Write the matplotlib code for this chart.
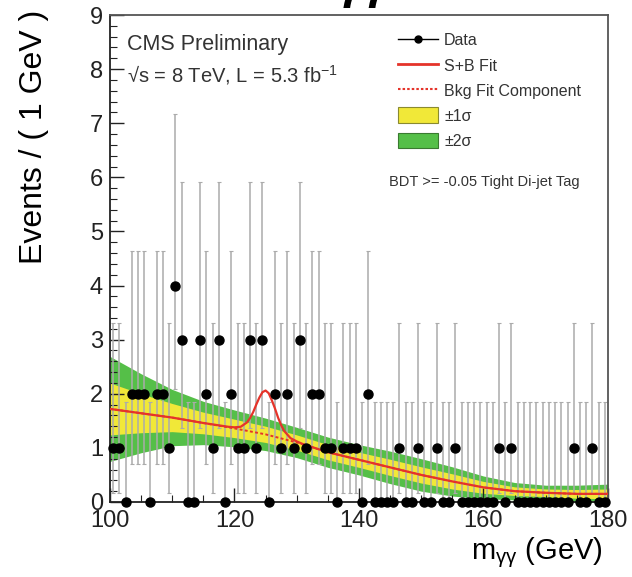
import numpy as np
import matplotlib
matplotlib.use("Agg")
import matplotlib.pyplot as plt
from matplotlib.lines import Line2D
from matplotlib.patches import Patch
from matplotlib.ticker import MultipleLocator

plt.rcParams["font.family"] = ["Liberation Sans", "DejaVu Sans"]
plt.rcParams["mathtext.fontset"] = "custom"
plt.rcParams["mathtext.rm"] = "Liberation Sans"

# ── data: events per 1 GeV bin (bin centres 100.5 ... 179.5) ────────────────
bin_centres = np.arange(100.5, 180.0, 1.0)
counts = [
    1, 1, 0, 2, 2, 2, 0, 2, 2, 1,      # 100-110
    4, 3, 0, 0, 3, 2, 1, 3, 0, 2,      # 110-120
    1, 1, 3, 1, 3, 0, 2, 1, 2, 1,      # 120-130
    3, 1, 2, 2, 1, 1, 0, 1, 1, 1,      # 130-140
    0, 2, 0, 0, 0, 0, 1, 0, 0, 1,      # 140-150
    0, 0, 1, 0, 0, 1, 0, 0, 0, 0,      # 150-160
    0, 0, 1, 0, 1, 0, 0, 0, 0, 0,      # 160-170
    0, 0, 0, 0, 1, 0, 0, 1, 0, 0,      # 170-180
]
# Poisson (Garwood) intervals for each count
poisson_lo = {0: 0.0, 1: 0.827, 2: 1.292, 3: 1.633, 4: 1.914}
poisson_hi = {0: 1.841, 1: 2.300, 2: 2.638, 3: 2.918, 4: 3.162}

# ── background fit and uncertainty bands ───────────────────────────────────
bkg_mass = [100, 105, 110, 115, 120, 125, 130, 135, 140, 145, 150, 155, 160, 165, 170, 175, 180]
bkg_fit = [1.72, 1.64, 1.56, 1.46, 1.36, 1.25, 1.10, 0.92, 0.78, 0.64, 0.50, 0.38, 0.27, 0.20, 0.17, 0.15, 0.15]
band_1sig = [0.48, 0.36, 0.26, 0.20, 0.17, 0.15, 0.14, 0.14, 0.14, 0.15, 0.15, 0.14, 0.11, 0.08, 0.07, 0.08, 0.09]
band_2sig = [0.97, 0.73, 0.52, 0.40, 0.34, 0.30, 0.28, 0.28, 0.28, 0.30, 0.30, 0.27, 0.21, 0.16, 0.14, 0.16, 0.18]

# ── signal + background fit ────────────────────────────────────────────────
sb_mass = [100, 105, 110, 115, 119, 120, 121, 122, 122.5, 123, 123.5, 124, 124.5, 125,
           125.5, 126, 126.5, 127, 127.5, 128, 129, 130, 131, 135, 140, 145, 150, 155,
           160, 165, 170, 175, 180]
sb_fit = [1.72, 1.64, 1.56, 1.46, 1.39, 1.38, 1.39, 1.47, 1.55, 1.66, 1.80, 1.93, 2.03, 2.06,
          2.01, 1.88, 1.73, 1.56, 1.42, 1.31, 1.18, 1.12, 1.07, 0.92, 0.78, 0.64, 0.50, 0.38,
          0.27, 0.20, 0.17, 0.15, 0.15]

YELLOW = "#f1e838"
GREEN = "#55bf48"
RED = "#e5332a"
GREY = "#ababab"

fig = plt.figure(figsize=(6.32, 5.77), dpi=100)
ax = fig.add_axes([0.174, 0.130, 0.788, 0.844])

bm = np.array(bkg_mass)
bf = np.array(bkg_fit)
b1 = np.array(band_1sig)
b2 = np.array(band_2sig)
ax.fill_between(bm, bf - b2, bf + b2, color=GREEN, lw=0, zorder=1)
ax.fill_between(bm, bf - b1, bf + b1, color=YELLOW, lw=0, zorder=1.5)

cnt = np.array(counts)
err_lo = [poisson_lo[c] for c in counts]
err_hi = [poisson_hi[c] for c in counts]
ax.errorbar(bin_centres, cnt, yerr=[err_lo, err_hi], fmt="none",
            ecolor=GREY, elinewidth=1.1, capsize=1.5, capthick=0.8, zorder=2)

ax.plot(bkg_mass, bkg_fit, color=RED, lw=1.4, ls=(0, (1.5, 1.2)), zorder=3)
ax.plot(sb_mass, sb_fit, color=RED, lw=1.6, zorder=3.5)
ax.plot(bin_centres, cnt, "o", color="black", ms=6.5, zorder=5, clip_on=False)

ax.set_xlim(100, 180)
ax.set_ylim(0, 9)
ax.xaxis.set_major_locator(MultipleLocator(20))
ax.xaxis.set_minor_locator(MultipleLocator(5))
ax.yaxis.set_major_locator(MultipleLocator(1))
ax.yaxis.set_minor_locator(MultipleLocator(0.2))
ax.tick_params(which="both", direction="in", top=False, right=False,
               labelsize=17, colors="#222222")
ax.tick_params(which="major", length=10, width=1.0)
ax.tick_params(which="minor", length=5, width=0.8)
ax.tick_params(axis="y", pad=5)
ax.tick_params(axis="x", pad=6)
for s in ax.spines.values():
    s.set_color("#555555")
    s.set_linewidth(1.3)
ax.spines["left"].set_color("#222222")
ax.spines["bottom"].set_color("#222222")

ax.set_ylabel("Events / ( 1 GeV )", fontsize=23, loc="top")
ax.yaxis.set_label_coords(-0.122, 1.01)
ax.set_xlabel(r"m$_{\mathregular{γγ}}$ (GeV)", fontsize=21, loc="right")
ax.xaxis.set_label_coords(0.99, -0.068)

ax.text(0.035, 0.962, "CMS Preliminary", transform=ax.transAxes,
        fontsize=15.5, color="#333333", va="top")
ax.text(0.035, 0.902, r"√s = 8 TeV, L = 5.3 fb$^{\mathregular{-1}}$", transform=ax.transAxes,
        fontsize=14.5, color="#333333", va="top")
ax.text(0.56, 0.658, "BDT >= -0.05 Tight Di-jet Tag", transform=ax.transAxes,
        fontsize=10.5, color="#333333", va="center")

handles = [
    Line2D([], [], color="black", marker="o", ms=5, lw=1.0),
    Line2D([], [], color=RED, lw=2.0),
    Line2D([], [], color=RED, lw=1.5, ls=(0, (1.2, 1.0))),
    Patch(facecolor=YELLOW, edgecolor="#8a8a30", lw=0.8),
    Patch(facecolor=GREEN, edgecolor="#3a7a30", lw=0.8),
]
labels = ["Data", "S+B Fit", "Bkg Fit Component", "±1σ", "±2σ"]
leg = ax.legend(handles, labels, loc="upper left", bbox_to_anchor=(0.565, 0.978),
                frameon=False, fontsize=11.5, handlelength=2.5, handleheight=1.15,
                handletextpad=0.4, labelspacing=0.55, borderaxespad=0)
for t in leg.get_texts():
    t.set_color("#333333")

fig.text(362 / 632, 1.004, "γγ", fontsize=34, fontweight="bold", ha="center", va="baseline")

fig.savefig("out.png", dpi=100)
